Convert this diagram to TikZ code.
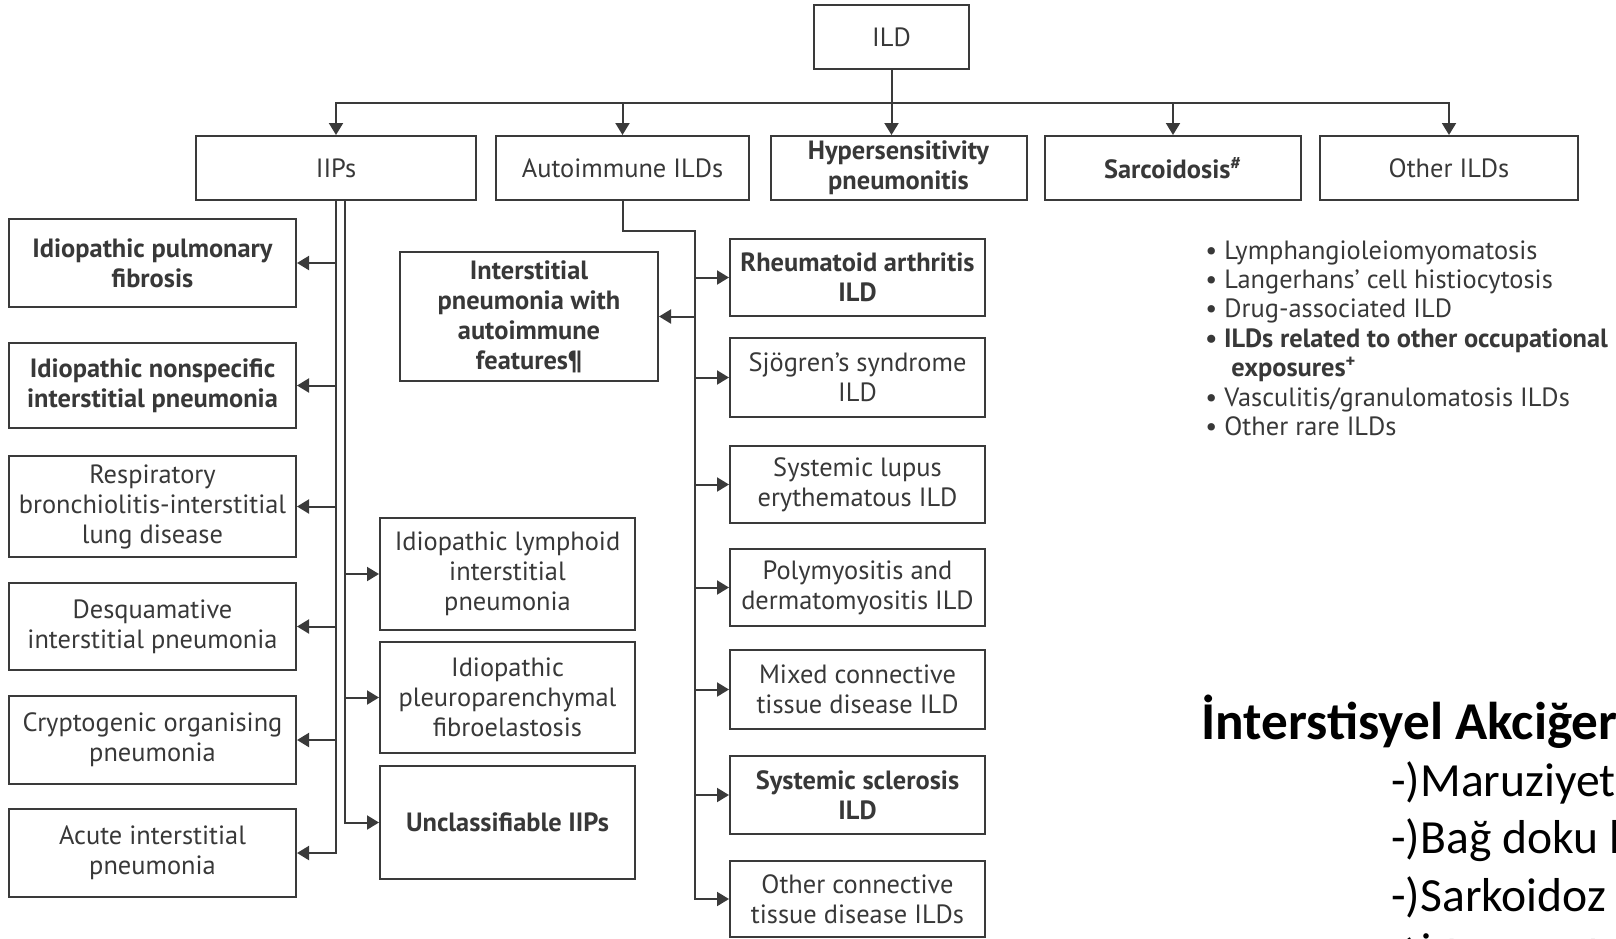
\documentclass[tikz,border=0pt]{standalone}
\usepackage{fontspec}
\setmainfont{PT Sans}
\newfontfamily\trfont{Carlito}
\usetikzlibrary{arrows.meta}
\definecolor{linecol}{HTML}{3A3A3A}
\definecolor{txtcol}{HTML}{383838}
\tikzset{
  box/.style={draw=linecol, line width=1pt, align=center, inner sep=1pt, text=txtcol, font=\fontsize{13.2}{15}\selectfont},
  bbox/.style={box, font=\fontsize{13.2}{15}\selectfont\bfseries},
  topbox/.style={minimum width=128pt, minimum height=32pt},
  iipbox/.style={minimum width=143.5pt},
  midbox/.style={minimum width=127.5pt},
  item/.style={text=txtcol, inner sep=0pt, anchor=base west, font=\fontsize{13.2}{15}\selectfont},
  bitem/.style={item, font=\fontsize{13.2}{15}\selectfont\bfseries},
  trtext/.style={inner sep=0pt, anchor=base west, font=\trfont\fontsize{23.8}{28}\selectfont},
  trhead/.style={trtext, font=\trfont\fontsize{26.6}{30}\selectfont\bfseries},
  wire/.style={draw=linecol, line width=1pt, line cap=rect},
  arr/.style={draw=linecol, line width=1pt, -{Triangle[length=6pt,width=7pt]}},
}
\begin{document}
\begin{tikzpicture}[x=0.5pt,y=-0.5pt]
 \clip (0,0) rectangle (1616,938);

 % top
 \node[box, minimum width=77.5pt, minimum height=32pt] (ild) at (891.5,37) {ILD};

 %level 2
 \node[box, topbox, minimum width=140pt] (iips) at (336,168) {IIPs};
 \node[box, topbox, minimum width=126.5pt] (auto) at (622.5,168) {Autoimmune ILDs};
 \node[bbox, topbox] (hp) at (898.5,168) {Hypersensitivity\\pneumonitis};
 \node[bbox, topbox] (sarc) at (1173,168) {Sarcoidosis\textsuperscript{\#}};
 \node[box, topbox, minimum width=129pt] (other) at (1449,168) {Other ILDs};

 %level 3, IIPs
 \node[bbox, iipbox, minimum height=44pt] (ipf) at (152.5,263) {Idiopathic pulmonary\\fibrosis};
 \node[bbox, iipbox, minimum height=42.5pt] (insip) at (152.5,385.5) {Idiopathic nonspecific\\interstitial pneumonia};
 \node[box, iipbox, minimum height=50.5pt] (rbild) at (152.5,506.5) {Respiratory\\bronchiolitis-interstitial\\lung disease};
 \node[box, iipbox, minimum height=43.5pt] (dip) at (152.5,626.5) {Desquamative\\interstitial pneumonia};
 \node[box, iipbox, minimum height=44pt] (cop) at (152.5,740) {Cryptogenic organising\\pneumonia};
 \node[box, iipbox, minimum height=44pt] (aip) at (152.5,853) {Acute interstitial\\pneumonia};

 \node[box, midbox, minimum height=56pt] (ilip) at (507.5,574) {Idiopathic lymphoid\\interstitial\\pneumonia};
 \node[box, midbox, minimum height=55.5pt] (ippfe) at (507.5,697.5) {Idiopathic\\pleuroparenchymal\\fibroelastosis};
 \node[bbox, midbox, minimum height=56.5pt] (uncl) at (507.5,822.5) {Unclassifiable IIPs};

 %level 3, autoimmune
 \node[bbox, minimum width=129pt, minimum height=64.5pt] (ipaf) at (529,316.5)
      {Interstitial\\pneumonia with\\autoimmune\\features¶};

 \node[bbox, midbox, minimum height=38.5pt] (ra) at (857.5,277.5) {Rheumatoid arthritis\\ILD};
 \node[box, midbox, minimum height=39.5pt] (ss) at (857.5,377.5) {Sjögren’s syndrome\\ILD};
 \node[box, midbox, minimum height=38.5pt] (sle) at (857.5,484.5) {Systemic lupus\\erythematous ILD};
 \node[box, midbox, minimum height=38.5pt] (pmdm) at (857.5,587.5) {Polymyositis and\\dermatomyositis ILD};
 \node[box, midbox, minimum height=39.5pt] (mctd) at (857.5,689.5) {Mixed connective\\tissue disease ILD};
 \node[bbox, midbox, minimum height=39pt] (ssc) at (857.5,795) {Systemic sclerosis\\ILD};
 \node[box, midbox, minimum height=38pt] (octd) at (857.5,899) {Other connective\\tissue disease ILDs};

 % other ILDs list
 \node[item] (o1) at (1205,259) {• Lymphangioleiomyomatosis};
 \node[item] (o2) at (1205,288.4) {• Langerhans’ cell histiocytosis};
 \node[item] (o3) at (1205,317.8) {• Drug-associated ILD};
 \node[bitem] (o4) at (1205,347.2) {• ILDs related to other occupational};
 \node[bitem] (o5) at (1231,376.6) {exposures\textsuperscript{+}};
 \node[item] (o6) at (1205,406) {• Vasculitis/granulomatosis ILDs};
 \node[item] (o7) at (1205,435.4) {• Other rare ILDs};

 % turkish notes
 \node[trhead] (tr0) at (1201,739) {İnterstisyel Akciğer};
 \node[trtext] (tr1) at (1391,796) {-)Maruziyet};
 \node[trtext] (tr2) at (1391,853) {-)Bağ doku h};
 \node[trtext] (tr3) at (1391,911) {-)Sarkoidoz};
 \node[trtext] (tr4) at (1391,972) {-)İdiyopatik};

 % lines
 \coordinate (bus) at (0,103);
 \draw[wire] (iips.north |- bus) -- (other.north |- bus);
 \foreach \nm in {iips,auto,sarc,other}
   \draw[arr] (\nm.north |- bus) -- (\nm.north);
 \draw[arr] (ild.south) -- (ild.south |- hp.north);

 \coordinate (lt) at (iips.south);
 \coordinate (rt) at ([xshift=4.5pt]iips.south);
 \draw[wire] (lt) -- (lt |- aip.east);
 \foreach \nm in {ipf,insip,rbild,dip,cop,aip}
   \draw[arr] (lt |- \nm.east) -- (\nm.east);
 \draw[wire] (rt) -- (rt |- uncl.west);
 \foreach \nm in {ilip,ippfe,uncl}
   \draw[arr] (rt |- \nm.west) -- (\nm.west);

 \coordinate (ak) at (695,231);
 \draw[wire] (auto.south) |- (ak) -- (ak |- octd.west);
 \foreach \nm in {ra,ss,sle,pmdm,mctd,ssc,octd}
   \draw[arr] (ak |- \nm.west) -- (\nm.west);
 \draw[arr] (ak |- ipaf.east) -- (ipaf.east);

\end{tikzpicture}
\end{document}
